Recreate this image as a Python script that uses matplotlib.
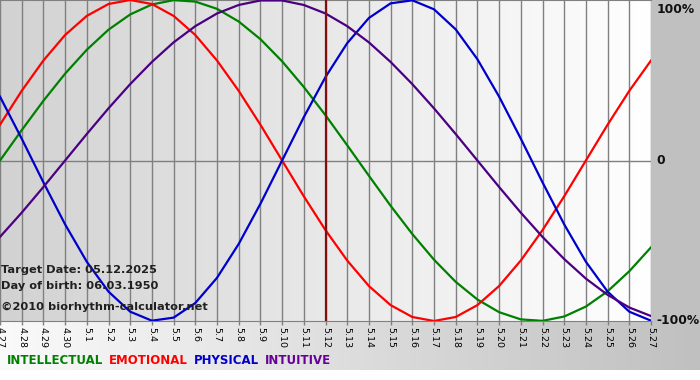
import numpy as np
import matplotlib
matplotlib.use('Agg')
import matplotlib.pyplot as plt
from matplotlib.colors import LinearSegmentedColormap

# Dates shown on the x axis (4.27 .. 5.27)
dates = ['4.27', '4.28', '4.29', '4.30'] + ['5.%d' % d for d in range(1, 28)]

# Values, one per day (fraction of 100%)
physical = [0.398, 0.136, -0.136, -0.398, -0.631, -0.817, -0.942, -0.998, -0.979, -0.888,
            -0.731, -0.520, -0.270, 0.0, 0.270, 0.520, 0.731, 0.888, 0.979, 0.998,
            0.942, 0.817, 0.631, 0.398, 0.136, -0.136, -0.398, -0.631, -0.817, -0.942, -0.998]
emotional = [0.223, 0.434, 0.623, 0.782, 0.901, 0.975, 1.0, 0.975, 0.901, 0.782,
             0.623, 0.434, 0.223, 0.0, -0.223, -0.434, -0.623, -0.782, -0.901, -0.975,
             -1.0, -0.975, -0.901, -0.782, -0.623, -0.434, -0.223, 0.0, 0.223, 0.434, 0.623]
intellectual = [0.0, 0.189, 0.372, 0.541, 0.690, 0.815, 0.910, 0.972, 0.999, 0.990,
                0.945, 0.866, 0.756, 0.618, 0.458, 0.282, 0.095, -0.095, -0.282, -0.458,
                -0.618, -0.756, -0.866, -0.945, -0.990, -0.999, -0.972, -0.910, -0.815, -0.690, -0.541]
intuitive = [-0.476, -0.325, -0.165, 0.0, 0.165, 0.325, 0.476, 0.614, 0.736, 0.837,
             0.916, 0.969, 0.997, 0.997, 0.969, 0.916, 0.837, 0.736, 0.614, 0.476,
             0.325, 0.165, 0.0, -0.165, -0.325, -0.476, -0.614, -0.736, -0.837, -0.916, -0.969]
target_idx = dates.index('5.12')

W, H = 700, 380
fig = plt.figure(figsize=(W / 100, H / 100), dpi=100)

# background in pixel coordinates
bg = fig.add_axes([0, 0, 1, 1])
bg.set_xlim(0, W)
bg.set_ylim(H, 0)
bg.axis('off')
bg.add_patch(plt.Rectangle((651, 0), 49, 322, color='#c0c0c0', lw=0))
grad_bottom = LinearSegmentedColormap.from_list('gb', ['#fafafa', '#c0c0c0'])
bg.imshow(np.linspace(0, 1, 256)[None, :], cmap=grad_bottom, aspect='auto',
          extent=[0, W, 370, 321])

# main chart
ax = fig.add_axes([0, (H - 321) / H, 651 / W, 321 / H])
grad_plot = LinearSegmentedColormap.from_list('gp', ['#d2d2d2', '#ffffff'])
ax.imshow(np.linspace(0, 1, 256)[None, :], cmap=grad_plot, aspect='auto',
          extent=[0, len(dates) - 1, -100, 100], zorder=0)

x = np.arange(len(dates))
for xi in x:
    ax.axvline(xi, color='#808080', lw=1, zorder=1)
ax.axhline(0, color='#808080', lw=1, zorder=1)

ax.plot(x, np.array(intellectual) * 100, color='#008000', lw=1.6, zorder=3)
ax.plot(x, np.array(emotional) * 100, color='#ff0000', lw=1.6, zorder=3)
ax.plot(x, np.array(physical) * 100, color='#0000cc', lw=1.6, zorder=3)
ax.plot(x, np.array(intuitive) * 100, color='#4b0082', lw=1.6, zorder=3)
ax.axvline(target_idx, color='#801010', lw=1.6, zorder=4)

ax.set_xlim(0, len(dates) - 1)
ax.set_ylim(-100, 100)
ax.set_xticks(x)
ax.set_xticklabels(dates, rotation=-90, fontsize=6.8)
ax.tick_params(axis='x', length=3, width=1, color='#808080', pad=1)
ax.set_yticks([])
for s in ['left', 'right']:
    ax.spines[s].set_visible(False)
ax.spines['top'].set_color('#808080')
ax.spines['bottom'].set_color('#808080')

for yv, lab in [(94, '100%'), (0, '0'), (-100, '-100%')]:
    ax.text(30.25, yv, lab, fontsize=8.8, fontweight='bold', va='center', ha='left',
            color='#101010', clip_on=False)

info = ['Target Date: 05.12.2025', 'Day of birth: 06.03.1950']
ax.text(0.06, -70, info[0], fontsize=8.2, fontweight='bold', color='#202020', zorder=5)
ax.text(0.06, -80, info[1], fontsize=8.2, fontweight='bold', color='#202020', zorder=5)
ax.text(0.06, -93, '\u00a92010 biorhythm-calculator.net', fontsize=8.2,
        fontweight='bold', color='#202020', zorder=5)

# legend line at the bottom
lx = 7
for name, col in [('INTELLECTUAL', '#008000'), ('EMOTIONAL', '#ff0000'),
                  ('PHYSICAL', '#0000cc'), ('INTUITIVE', '#660099')]:
    t = bg.text(lx, 361, name, fontsize=8.5, fontweight='bold', color=col, va='center')
    fig.canvas.draw()
    bb = t.get_window_extent()
    lx += bb.width + 6

fig.savefig('out.png', dpi=100)
